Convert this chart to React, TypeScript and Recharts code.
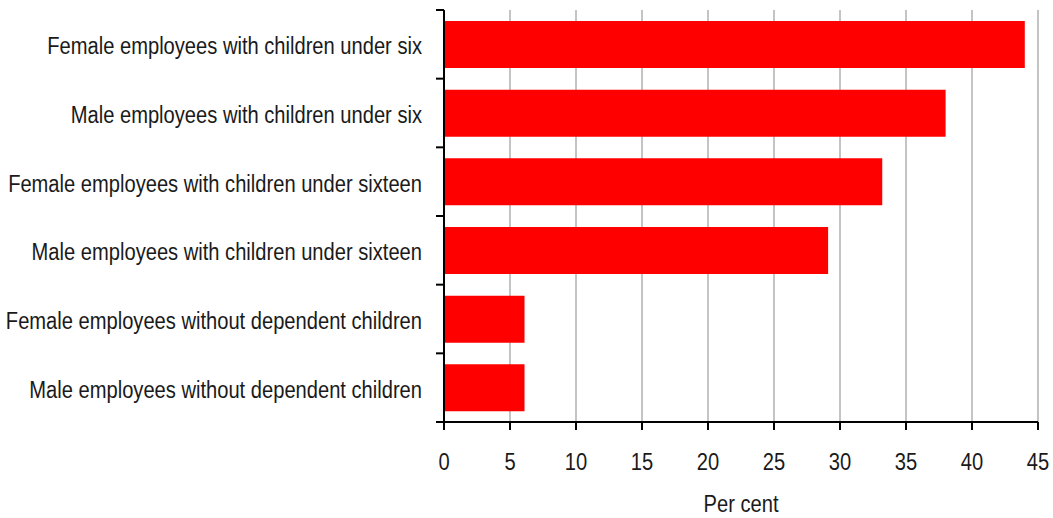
import React from 'react';
import { BarChart, Bar, XAxis, YAxis, CartesianGrid } from 'recharts';

const categories = [
  'Female employees with children under six',
  'Male employees with children under six',
  'Female employees with children under sixteen',
  'Male employees with children under sixteen',
  'Female employees without dependent children',
  'Male employees without dependent children',
];
const values = [44.0, 38.0, 33.2, 29.1, 6.1, 6.1];
const xTicks = [0, 5, 10, 15, 20, 25, 30, 35, 40, 45];

const data = categories.map((name, i) => ({ name, value: values[i] }));

// no narrow font installed, so squeeze Liberation Sans horizontally
const FONT = '"Liberation Sans", Arial, sans-serif';
const FS = 23;
const SQUEEZE = 0.875;
const BAND = 412 / categories.length;

function NarrowText({ x, y, anchor, dy, children }: any) {
  return (
    <text
      transform={`translate(${x},${y}) scale(${SQUEEZE},1)`}
      dy={dy}
      textAnchor={anchor}
      fontSize={FS}
      fill="#1a1a1a"
      fontFamily={FONT}
    >
      {children}
    </text>
  );
}

// label at the band centre, tick mark at the band edges
function CategoryTick(props: any) {
  const { x, y, payload, index } = props;
  const ax = x + 22;
  return (
    <g>
      <line x1={ax - 8} x2={ax} y1={y - BAND / 2} y2={y - BAND / 2} stroke="#000" strokeWidth={2} />
      {index === categories.length - 1 && (
        <line x1={ax - 8} x2={ax} y1={y + BAND / 2} y2={y + BAND / 2} stroke="#000" strokeWidth={2} />
      )}
      <NarrowText x={x} y={y + 2} anchor="end" dy="0.35em">
        {payload.value}
      </NarrowText>
    </g>
  );
}

function NumberTick(props: any) {
  const { x, y, payload } = props;
  return (
    <NarrowText x={x} y={y} anchor="middle" dy="0.71em">
      {payload.value}
    </NarrowText>
  );
}

function AxisTitle(props: any) {
  const { viewBox } = props;
  return (
    <NarrowText x={viewBox.x + viewBox.width / 2} y={512} anchor="middle">
      Per cent
    </NarrowText>
  );
}

export default function App() {
  return (
    <div style={{ position: 'absolute', left: 0, top: 0, background: '#fff' }}>
      <BarChart
        width={1053}
        height={518}
        data={data}
        layout="vertical"
        margin={{ top: 10, right: 15, bottom: 0, left: 0 }}
        barCategoryGap="16%"
      >
        <CartesianGrid horizontal={false} stroke="#c4c4c4" strokeWidth={2} />
        <XAxis
          type="number"
          domain={[0, 45]}
          ticks={xTicks}
          interval={0}
          height={96}
          axisLine={{ stroke: '#000', strokeWidth: 2 }}
          tickLine={{ stroke: '#000', strokeWidth: 2 }}
          tickSize={8}
          tickMargin={24}
          tick={<NumberTick />}
          label={<AxisTitle />}
        />
        <YAxis
          type="category"
          dataKey="name"
          width={444}
          axisLine={{ stroke: '#000', strokeWidth: 2 }}
          tickLine={false}
          tickSize={8}
          tickMargin={14}
          interval={0}
          tick={<CategoryTick />}
        />
        <Bar dataKey="value" fill="#ff0000" isAnimationActive={false} />
      </BarChart>
    </div>
  );
}
